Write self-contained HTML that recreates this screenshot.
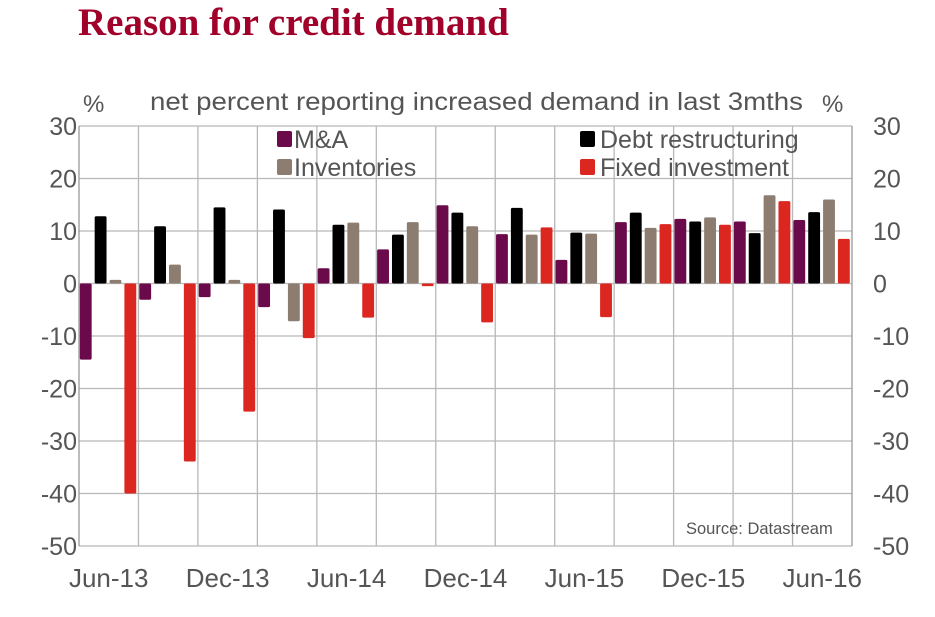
<!DOCTYPE html>
<html><head><meta charset="utf-8"><style>
body{margin:0;background:#fff;width:935px;height:612px;overflow:hidden}
svg text{font-family:"Liberation Sans",sans-serif;fill:#555}
</style></head><body>
<svg id="chart" width="935" height="612" xmlns="http://www.w3.org/2000/svg">
<text x="78" y="35" style="font-family:'Liberation Serif',serif;font-weight:bold;font-size:39px;fill:#a0002a">Reason for credit demand</text>
<text x="83" y="112" font-size="24">%</text>
<text x="822" y="112" font-size="24">%</text>
<text x="150" y="110" font-size="25" textLength="653" lengthAdjust="spacingAndGlyphs">net percent reporting increased demand in last 3mths</text>
<g id="grid"></g><g id="bars"></g><g id="axes"></g>
<g>
<rect x="277" y="131" width="15" height="16" rx="2" fill="#6b0a4a"/>
<text x="294" y="148" font-size="25">M&amp;A</text>
<rect x="277" y="159" width="15" height="16" rx="2" fill="#8c7d70"/>
<text x="294" y="176" font-size="25">Inventories</text>
<rect x="580" y="131" width="15" height="16" rx="2" fill="#000"/>
<text x="600" y="148" font-size="25">Debt restructuring</text>
<rect x="580" y="159" width="15" height="16" rx="2" fill="#dc2620"/>
<text x="600" y="176" font-size="25">Fixed investment</text>
</g>
<text x="686" y="534" font-size="16.5" fill="#444">Source: Datastream</text>
</svg>
<script>
const quarters=["Jun-13","Sep-13","Dec-13","Mar-14","Jun-14","Sep-14","Dec-14","Mar-15","Jun-15","Sep-15","Dec-15","Mar-16","Jun-16"];
const xLabels=["Jun-13","","Dec-13","","Jun-14","","Dec-14","","Jun-15","","Dec-15","","Jun-16"];
const maValues=[-14.5,-3.1,-2.6,-4.5,2.9,6.5,14.9,9.4,4.5,11.7,12.3,11.8,12.1];
const debtValues=[12.8,10.9,14.5,14.1,11.2,9.3,13.5,14.4,9.7,13.5,11.8,9.6,13.6];
const invValues=[0.7,3.6,0.7,-7.2,11.6,11.7,10.9,9.3,9.5,10.6,12.6,16.8,16.0];
const fixedValues=[-40,-33.9,-24.4,-10.4,-6.5,-0.5,-7.4,10.7,-6.4,11.3,11.2,15.7,8.5];
const yTicks=[30,20,10,0,-10,-20,-30,-40,-50];
const seriesNames=["ma","debt","inventories","fixed"];
const seriesColors=["#6b0a4a","#000000","#8c7d70","#dc2620"];
const NS="http://www.w3.org/2000/svg";
const X0=79,X1=852,Y30=126,Yn50=546;
const qw=(X1-X0)/quarters.length;
function y(v){return Y30+(30-v)*(Yn50-Y30)/80;}
function x(q,s){return X0+q*qw+s*qw/4;}
function mk(tag,attrs,parent){const e=document.createElementNS(NS,tag);for(const k in attrs)e.setAttribute(k,attrs[k]);parent.appendChild(e);return e;}
const grid=document.getElementById('grid'),bars=document.getElementById('bars'),axes=document.getElementById('axes');
yTicks.forEach(t=>{
  const l=mk('line',{x1:X0,x2:X1,y1:y(t),y2:y(t),stroke:'#b8b8b8','stroke-width':1.3},grid);
  
  
  const a=mk('text',{x:77,y:y(t)+9,'text-anchor':'end','font-size':25},axes);a.textContent=t;
  
  
  const b=mk('text',{x:873,y:y(t)+9,'font-size':25},axes);b.textContent=t;
  
  
});
for(let q=0;q<=quarters.length;q++){
  const gx=X0+q*qw;
  const l=mk('line',{x1:gx,x2:gx,y1:Y30,y2:Yn50,stroke:(q==0||q==quarters.length)?'#999':'#b8b8b8','stroke-width':1.3},grid);
  
  
}
const all=[maValues,debtValues,invValues,fixedValues];
quarters.forEach((qn,q)=>{
  all.forEach((arr,s)=>{
    const v=arr[q];const bx=x(q,s)+0.8;const w=qw/4-3;
    const r=mk('rect',{x:bx,y:Math.min(y(v),y(0)),width:w,height:Math.max(1.5,Math.abs(y(v)-y(0))),rx:1.5,fill:seriesColors[s]},bars);
    
    
  });
  if(xLabels[q]){
    const t=mk('text',{x:X0+(q+0.5)*qw,y:587,'text-anchor':'middle','font-size':26},axes);t.textContent=xLabels[q];
    
    
  }
});
</script>
</body></html>
